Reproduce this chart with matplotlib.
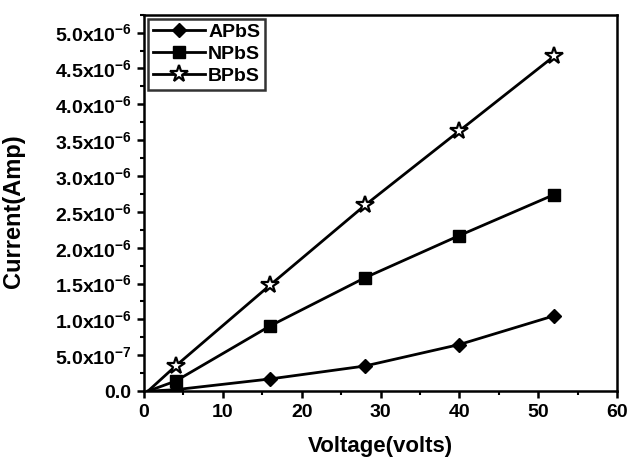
import numpy as np
import matplotlib
matplotlib.use('Agg')
import matplotlib.pyplot as plt
from matplotlib.ticker import MultipleLocator, FuncFormatter

plt.rcParams['font.family'] = ['Liberation Sans', 'DejaVu Sans']
plt.rcParams['font.weight'] = 'bold'
plt.rcParams['mathtext.fontset'] = 'custom'
plt.rcParams['mathtext.bf'] = 'Liberation Sans:bold'
plt.rcParams['mathtext.rm'] = 'Liberation Sans:bold'
plt.rcParams['mathtext.default'] = 'bf'

# tensão (V) e correntes (A)
voltagem = [0.5, 4, 16, 28, 40, 52]
apbs = [0.0, 0.02e-6, 0.17e-6, 0.35e-6, 0.65e-6, 1.05e-6]
npbs = [0.0, 0.14e-6, 0.91e-6, 1.58e-6, 2.17e-6, 2.74e-6]
bpbs = [0.0, 0.35e-6, 1.48e-6, 2.59e-6, 3.63e-6, 4.67e-6]

fig = plt.figure(figsize=(6.29, 4.58), dpi=100)
ax = fig.add_axes([0.229, 0.146, 0.752, 0.822])

marcas = slice(1, None)
ax.plot(voltagem, apbs, color='black', lw=2, marker='D', ms=7, markevery=marcas, label='APbS')
ax.plot(voltagem, npbs, color='black', lw=2, marker='s', ms=8, markevery=marcas, label='NPbS')
ax.plot(voltagem, bpbs, color='black', lw=2, marker='*', ms=13, markevery=marcas,
        markerfacecolor='white', markeredgewidth=1.6, label='BPbS')

ax.set_xlim(0, 60)
ax.set_ylim(0, 5.25e-6)
ax.xaxis.set_major_locator(MultipleLocator(10))
ax.xaxis.set_minor_locator(MultipleLocator(5))
ax.yaxis.set_major_locator(MultipleLocator(0.5e-6))
ax.yaxis.set_minor_locator(MultipleLocator(0.25e-6))

def formato(v, pos):
    if abs(v) < 1e-12:
        return '0.0'
    e = int(np.floor(np.log10(abs(v)) + 1e-9))
    m = v / 10**e
    return '%.1fx10$^{%d}$' % (m, e)

ax.yaxis.set_major_formatter(FuncFormatter(formato))

for s in ax.spines.values():
    s.set_linewidth(1.8)
ax.tick_params(which='major', direction='out', length=5, width=1.8, labelsize=14, pad=4)
ax.tick_params(which='minor', direction='out', length=3, width=1.5)

ax.set_xlabel('Voltage(volts)', fontsize=16, fontweight='bold', labelpad=11)
ax.set_ylabel('Current(Amp)', fontsize=17, fontweight='bold')
ax.yaxis.set_label_coords(-0.252, 0.477)

leg = ax.legend(loc='upper left', bbox_to_anchor=(0.0, 1.0), fontsize=14, frameon=True,
                fancybox=False, edgecolor='black', handlelength=2.7, borderaxespad=0.2,
                borderpad=0.25, labelspacing=0.22, handletextpad=0.15)
leg.get_frame().set_linewidth(1.8)
for t in leg.get_texts():
    t.set_fontweight('bold')

fig.savefig('out.png', dpi=100)
